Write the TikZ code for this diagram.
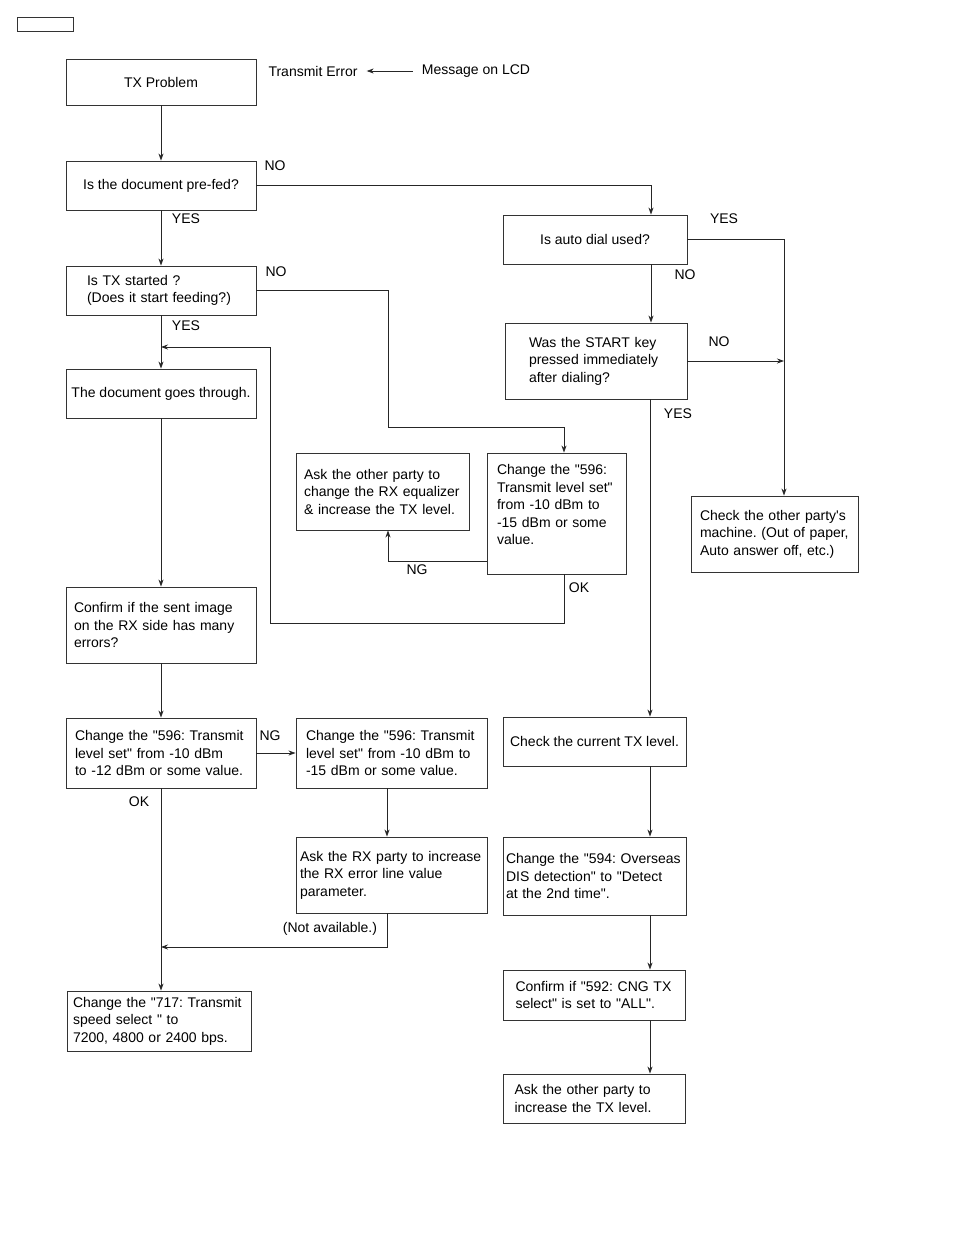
\documentclass[tikz,border=0pt]{standalone}
\usepackage{fontspec}
\setmainfont{Liberation Sans}[Ligatures=TeXOff]
\usetikzlibrary{arrows.meta}
\frenchspacing
\hyphenpenalty=10000
\exhyphenpenalty=10000

\begin{document}
\begin{tikzpicture}[x=1pt, y=-1pt, font=\fontsize{14}{17.5}\selectfont, >={Stealth[length=7pt,width=5pt]}]
        \tikzstyle{box}=[draw=black!80, line width=0.9pt, inner ysep=0pt]
        \tikzstyle{lbox}=[box, align=left]
        \tikzstyle{tag}=[inner sep=1pt]
        \tikzstyle{link}=[draw=black!85, line width=0.8pt]
        \fill[white] (0,0) rectangle (954,1235);
        \useasboundingbox (0,0) rectangle (954,1235);
        % boxes, left column
        \node[box, minimum width=56, minimum height=14] (mark) at (45,24) {};
        \node[box, minimum width=190, minimum height=46] (start) at (161,82) {TX Problem};
        \node[tag] (err) at (313,71) {Transmit Error};
        \node[tag] (lcd) at (476,71) {Message on LCD};
        \node[box, minimum width=190, minimum height=49] (prefed) at (161,185.5) {Is the document pre-fed?};
        \node[lbox, minimum height=49, text width=148, inner xsep=21] (txstart) at (161,290.5) {Is TX started ?\\(Does it start feeding?)};
        \node[box, minimum width=190, minimum height=49] (goes) at (161,393.5) {The document goes through.};
        \node[lbox, minimum height=76, text width=174, inner xsep=8] (confirm) at (161,625) {Confirm if the sent image\\on the RX side has many\\errors?};
        \node[lbox, minimum height=70, text width=172, inner xsep=9] (chg12) at (161,753) {Change the "596: Transmit\\level set" from -10 dBm\\to -12 dBm or some value.};
        \node[lbox, minimum height=60, text width=172, inner xsep=6] (chg717) at (159,1021) {Change the "717: Transmit\\speed select " to\\7200, 4800 or 2400 bps.};
        % boxes, middle
        \node[lbox, minimum height=77, text width=157, inner xsep=8] (askeq) at (382.5,491.5) {Ask the other party to\\change the RX equalizer\\\& increase the TX level.};
        \node[lbox, minimum height=121, text width=119, inner xsep=10] (chg15a) at (556.5,513.5) {Change the "596:\\Transmit level set"\\from -10 dBm to\\-15 dBm or some\\value.\\\mbox{}};
        \node[lbox, minimum height=70, text width=171, inner xsep=10] (chg15b) at (391.5,753) {Change the "596: Transmit\\level set" from -10 dBm to\\-15 dBm or some value.};
        \node[lbox, minimum height=76, text width=183, inner xsep=4] (askrx) at (391.5,875) {Ask the RX party to increase\\the RX error line value\\parameter.};
        % boxes, right column
        \node[box, minimum width=184, minimum height=49] (autodial) at (595,239.5) {Is auto dial used?};
        \node[lbox, minimum height=76, text width=134, inner xsep=24] (startkey) at (596,361) {Was the START key\\pressed immediately\\after dialing?};
        \node[lbox, minimum height=76, text width=149, inner xsep=9] (other) at (774.5,534) {Check the other party's\\machine. (Out of paper,\\Auto answer off, etc.)};
        \node[box, minimum width=183, minimum height=49] (curtx) at (594.5,741.5) {Check the current TX level.};
        \node[lbox, minimum height=78, text width=177, inner xsep=3] (chg594) at (594.5,876) {Change the "594: Overseas\\DIS detection" to "Detect\\at the 2nd time".};
        \node[lbox, minimum height=50, text width=158, inner xsep=12] (cng) at (594.5,995) {Confirm if "592: CNG TX\\select" is set to "ALL".};
        \node[lbox, minimum height=49, text width=160, inner xsep=11] (askinc) at (594.5,1098.5) {Ask the other party to\\increase the TX level.};
        % bend points
        \coordinate (bendA) at (388,427);
        \coordinate (loopA) at (270,623);
        \coordinate (joinA) at (161,347);
        \coordinate (joinB) at (161,947);
        \coordinate (joinC) at (784,361);
        % connectors
        \draw[link,->, shorten <=8pt, shorten >=8pt] (lcd) -- (err);
        \draw[link,->] (start) -- (prefed);
        \draw[link,->] (prefed.east) -| ([xshift=56]autodial.north);
        \draw[link,->] (prefed) -- (txstart);
        \draw[link,->] (txstart.east) -| (bendA) -| ([xshift=7.5]chg15a.north);
        \draw[link,->] (txstart) -- (goes);
        \draw[link,->] ([xshift=7.5]chg15a.south) |- (loopA) |- (joinA);
        \draw[link,->] ([yshift=-47.5]chg15a.west) -| ([xshift=5.5]askeq.south);
        \draw[link,->] (goes) -- (confirm);
        \draw[link,->] (confirm) -- (chg12);
        \draw[link,->] (chg12) -- (chg15b);
        \draw[link,->] ([xshift=-4.5]chg15b.south) -- ([xshift=-4.5]askrx.north);
        \draw[link,->] ([xshift=-4.5]askrx.south) |- (joinB);
        \draw[link,->] (chg12) -- ([xshift=2]chg717.north);
        \draw[link,->] (autodial.east) -| ([xshift=9.5]other.north);
        \draw[link,->] ([xshift=56]autodial.south) -- ([xshift=55]startkey.north);
        \draw[link,->] (startkey.east) -- (joinC);
        \draw[link,->] ([xshift=54]startkey.south) -- ([xshift=55.5]curtx.north);
        \draw[link,->] ([xshift=55.5]curtx.south) -- ([xshift=55.5]chg594.north);
        \draw[link,->] ([xshift=55.5]chg594.south) -- ([xshift=55.5]cng.north);
        \draw[link,->] ([xshift=55.5]cng.south) -- ([xshift=55.5]askinc.north);
        % branch labels
        \node[tag] (noA) at (275,166) {NO};
        \node[tag] (yesA) at (186,219) {YES};
        \node[tag] (noB) at (276,272) {NO};
        \node[tag] (yesB) at (186,326) {YES};
        \node[tag] (yesC) at (724,219) {YES};
        \node[tag] (noC) at (685,275) {NO};
        \node[tag] (noD) at (719,342) {NO};
        \node[tag] (yesD) at (678,414) {YES};
        \node[tag] (ngA) at (417,570) {NG};
        \node[tag] (okA) at (579,588) {OK};
        \node[tag] (ngB) at (270,736) {NG};
        \node[tag] (okB) at (139,802) {OK};
        \node[tag] (navail) at (330,929) {(Not available.)};
    \end{tikzpicture}
\end{document}
